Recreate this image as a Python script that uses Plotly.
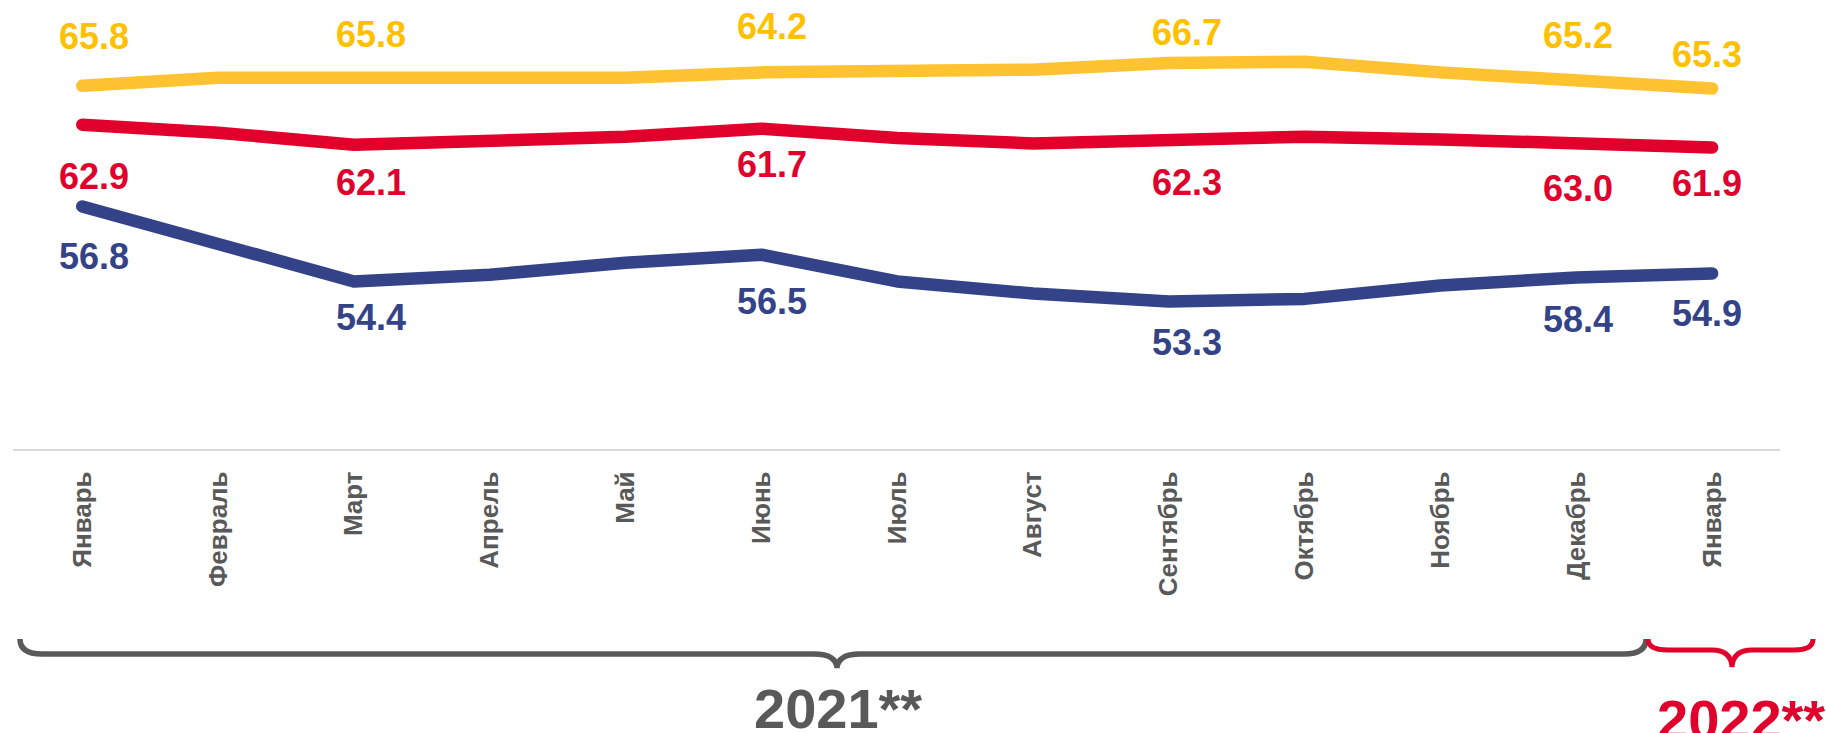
import plotly.graph_objects as go

# ---- data ----
months = ["Январь", "Февраль", "Март", "Апрель", "Май", "Июнь", "Июль",
          "Август", "Сентябрь", "Октябрь", "Ноябрь", "Декабрь", "Январь"]
yellow_vals = [65.8, 66.4, 66.4, 66.4, 66.4, 66.8, 66.8, 67.0, 67.5, 67.6, 66.8, 66.3, 65.6]
red_vals = [62.9, 62.3, 61.4, 61.6, 62.0, 62.6, 61.9, 61.5, 61.8, 62.0, 61.8, 61.6, 61.2]
blue_vals = [56.8, 53.9, 51.2, 51.7, 52.6, 53.2, 51.2, 50.3, 49.7, 49.9, 50.9, 51.5, 51.8]

label_idx = [0, 2, 5, 8, 11, 12]
yellow_labels = ["65.8", "65.8", "64.2", "66.7", "65.2", "65.3"]
red_labels = ["62.9", "62.1", "61.7", "62.3", "63.0", "61.9"]
blue_labels = ["56.8", "54.4", "56.5", "53.3", "58.4", "54.9"]

years = ["2021**", "2022**"]

# ---- styling ----
W, H = 1826, 733
ML, MR, MT, MB = 13, 46, 0, 284
PW, PH = W - ML - MR, H - MT - MB

C_YEL, C_YEL_T = "#FFC230", "#FFC000"
C_RED = "#E0002B"
C_BLU = "#344388"
C_GRAY = "#595959"
FONT = "Liberation Sans, Arial, sans-serif"

label_xshift = [12, 17, 11, 18, 2, -5]
yellow_yshift = [49, 43, 46, 30, 44, 34]
red_yshift = [-52, -38, -36, -43, -46, -36]
blue_yshift = [-50, -36, -47, -41, -42, -40]

x = list(range(len(months)))

fig = go.Figure()
for vals, col in [(yellow_vals, C_YEL), (red_vals, C_RED), (blue_vals, C_BLU)]:
    fig.add_trace(go.Scatter(x=x, y=vals, mode="lines",
                             line=dict(color=col, width=12.5),
                             hoverinfo="skip", showlegend=False))

annotations = []
for vals, labels, ysh, col in [(yellow_vals, yellow_labels, yellow_yshift, C_YEL_T),
                               (red_vals, red_labels, red_yshift, C_RED),
                               (blue_vals, blue_labels, blue_yshift, C_BLU)]:
    for k, i in enumerate(label_idx):
        annotations.append(dict(x=i, y=vals[i], xref="x", yref="y", text=labels[k],
                                showarrow=False, xshift=label_xshift[k], yshift=ysh[k],
                                font=dict(family=FONT, size=36, color=col, weight="bold"),
                                xanchor="center", yanchor="middle"))


def px2paper(px, py):
    return (px - ML) / PW, (H - MB - py) / PH


def path(points_cmds):
    out = []
    for cmd, pts in points_cmds:
        coords = " ".join("%.5f,%.5f" % px2paper(a, b) for a, b in pts)
        out.append(cmd + " " + coords)
    return " ".join(out)


gray_brace = path([("M", [(20, 639)]), ("Q", [(20, 654), (42, 654)]),
                   ("L", [(814, 654)]), ("Q", [(836, 654), (837, 668)]),
                   ("Q", [(838, 654), (860, 654)]), ("L", [(1624, 654)]),
                   ("Q", [(1646, 654), (1646, 639)])])
red_brace = path([("M", [(1648, 639)]), ("Q", [(1648, 650), (1668, 650)]),
                  ("L", [(1712, 650)]), ("Q", [(1731, 650), (1732, 667)]),
                  ("Q", [(1733, 650), (1752, 650)]), ("L", [(1794, 650)]),
                  ("Q", [(1813, 650), (1813, 639)])])

shapes = [
    dict(type="path", path=gray_brace, xref="paper", yref="paper",
         line=dict(color=C_GRAY, width=5.5)),
    dict(type="path", path=red_brace, xref="paper", yref="paper",
         line=dict(color=C_RED, width=5)),
]

for txt, (px, py), col in [(years[0], (838, 708), C_GRAY), (years[1], (1741, 719), C_RED)]:
    xp, yp = px2paper(px, py)
    annotations.append(dict(x=xp, y=yp, xref="paper", yref="paper", text=txt,
                            showarrow=False, xanchor="center", yanchor="middle",
                            font=dict(family=FONT, size=56, color=col, weight="bold")))

fig.update_layout(
    width=W, height=H,
    margin=dict(l=ML, r=MR, t=MT, b=MB, pad=0),
    paper_bgcolor="white", plot_bgcolor="white",
    xaxis=dict(range=[-0.51, 12.5], tickvals=x, ticktext=months, tickangle=-90,
               showgrid=False, zeroline=False, showline=True, linecolor="#D9D9D9",
               linewidth=2, ticks="", ticklabelstandoff=10,
               tickfont=dict(family=FONT, size=26, color=C_GRAY, weight="bold"),
               fixedrange=True),
    yaxis=dict(range=[38.7, 72.2], visible=False, showgrid=False, zeroline=False,
               fixedrange=True),
    annotations=annotations,
    shapes=shapes,
    showlegend=False,
)

fig.write_html("out.html", config={"displayModeBar": False},
               post_script=("document.body.style.margin='0';"
                            "document.body.style.overflow='hidden';"
                            "document.querySelectorAll('.js-line').forEach(function(p){"
                            "p.style.strokeLinecap='round';p.style.strokeLinejoin='round';});"))
